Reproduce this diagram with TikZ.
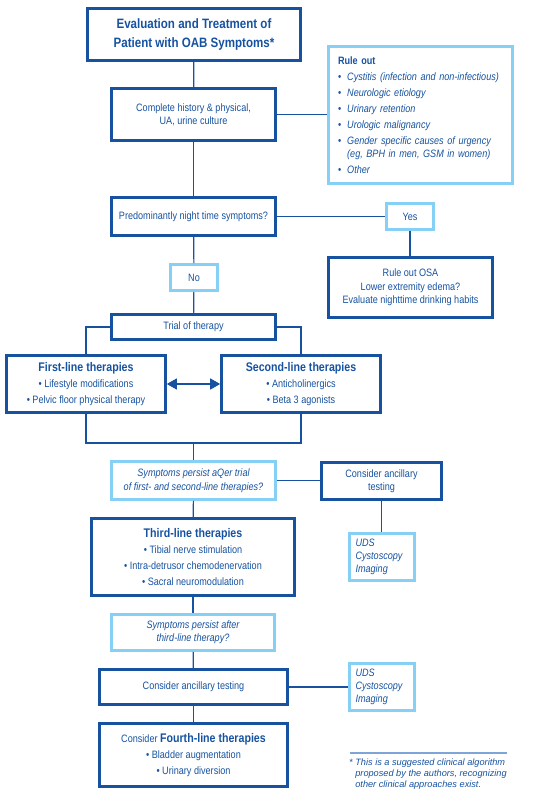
\documentclass[tikz,border=0pt]{standalone}
\usepackage{fontspec}
\usepackage{xcolor}
\usepackage{tikz}
\usetikzlibrary{shapes,arrows.meta,positioning,calc}
\setmainfont{Liberation Sans}[FakeStretch=0.85]
\newfontfamily\footfont{Liberation Sans}
\definecolor{OABBlue}{RGB}{22, 82, 160}
\definecolor{OABSky}{RGB}{135, 208, 245}
\definecolor{OABRule}{RGB}{125, 165, 215}
\newcommand{\bodyfont}{\fontsize{10.7}{13.3}\selectfont}
\newcommand{\headfont}{\fontsize{12.5}{15}\selectfont\bfseries}
\newcommand{\bul}{\textbullet~}
\newcommand{\lbul}{\textbullet\hspace{6pt}}

\begin{document}
\begin{tikzpicture}[x=1pt, y=-1pt]
  \tikzstyle{darkbox} = [rectangle, draw=OABBlue, text=OABBlue, line width=2.6pt, align=center, inner sep=2pt, font=\bodyfont]
  \tikzstyle{lightbox} = [rectangle, draw=OABSky, text=OABBlue, line width=2.6pt, align=center, inner sep=2pt, font=\bodyfont]
  \tikzstyle{conn} = [draw=OABBlue, line width=1.2pt]
  \tikzstyle{twoway} = [conn, {Triangle[length=10pt,width=11pt]}-{Triangle[length=10pt,width=11pt]}]
  \useasboundingbox (0,0) rectangle (550,798);

  % main column
  \node [darkbox, minimum width=213pt, minimum height=52pt, font=\fontsize{13.6}{18.3}\selectfont\bfseries] (title) at (194,34.5) {Evaluation and Treatment of\\Patient with OAB Symptoms*};
  \node [darkbox, minimum width=164pt, minimum height=52pt] (hist) at (193.5,114.5) {Complete history \& physical,\\UA, urine culture};
  \node [darkbox, minimum width=164pt, minimum height=38pt] (night) at (193.5,216.5) {Predominantly night time symptoms?};
  \node [lightbox, minimum width=47pt, minimum height=26pt] (no) at (194,277.5) {No};
  \node [darkbox, minimum width=164pt, minimum height=25pt] (trial) at (193.5,327) {Trial of therapy};
  \node [darkbox, minimum width=159pt, minimum height=57pt, font=\fontsize{10.7}{16}\selectfont] (first) at (86,384) {{\headfont First-line therapies}\\\bul Lifestyle modifications\\\bul Pelvic floor physical therapy};
  \node [darkbox, minimum width=159pt, minimum height=57pt, font=\fontsize{10.7}{16}\selectfont] (second) at (301,384) {{\headfont Second-line therapies}\\\bul Anticholinergics\\\bul Beta 3 agonists};
  \node [lightbox, minimum width=164pt, minimum height=38pt, font=\fontsize{10.7}{14}\selectfont\itshape] (persist1) at (193.5,480.5) {Symptoms persist aQer trial\\of first- and second-line therapies?};
  \node [darkbox, minimum width=203pt, minimum height=77pt, font=\fontsize{10.7}{16}\selectfont] (third) at (193,557) {{\headfont Third-line therapies}\\\bul Tibial nerve stimulation\\\bul Intra-detrusor chemodenervation\\\bul Sacral neuromodulation};
  \node [lightbox, minimum width=163pt, minimum height=36pt, font=\bodyfont\itshape] (persist2) at (193,632.5) {Symptoms persist after\\third-line therapy?};
  \node [darkbox, minimum width=188pt, minimum height=35pt] (ancil2) at (193.5,687) {Consider ancillary testing};
  \node [darkbox, minimum width=188pt, minimum height=63pt, font=\fontsize{10.7}{16}\selectfont] (fourth) at (193.5,755) {Consider {\headfont Fourth-line therapies}\\\bul Bladder augmentation\\\bul Urinary diversion};

  % side column
  \node [lightbox, minimum width=184pt, minimum height=137pt, inner xsep=9.5pt, text width=165pt, align=left, font=\fontsize{10.7}{12.7}\selectfont] (ruleout) at (420.5,115) {%
    \textbf{Rule out}\\[3.3pt]
    \lbul\textit{Cystitis (infection and non-infectious)}\\[3.3pt]
    \lbul\textit{Neurologic etiology}\\[3.3pt]
    \lbul\textit{Urinary retention}\\[3.3pt]
    \lbul\textit{Urologic malignancy}\\[3.3pt]
    \lbul\textit{Gender specific causes of urgency}\\
    \phantom{\lbul}\textit{(eg, BPH in men, GSM in women)}\\[3.3pt]
    \lbul\textit{Other}};
  \node [lightbox, minimum width=47pt, minimum height=26pt] (yes) at (410,216.5) {Yes};
  \node [darkbox, minimum width=164pt, minimum height=60pt, font=\fontsize{10.7}{13.5}\selectfont] (osa) at (410.5,287.5) {Rule out OSA\\Lower extremity edema?\\Evaluate nighttime drinking habits};
  \node [darkbox, minimum width=120pt, minimum height=37pt] (ancil1) at (381.5,481) {Consider ancillary\\testing};
  \node [lightbox, minimum width=65pt, minimum height=47pt, inner xsep=6pt, text width=53pt, align=left, font=\bodyfont\itshape] (uds1) at (382,557) {UDS\\Cystoscopy\\Imaging};
  \node [lightbox, minimum width=65pt, minimum height=47pt, inner xsep=6pt, text width=53pt, align=left, font=\bodyfont\itshape] (uds2) at (382,687) {UDS\\Cystoscopy\\Imaging};

  % connectors
  \coordinate (merge) at (193.5,443);
  \draw [conn] (title) -- (hist);
  \draw [conn] (hist.east) -- (hist.east -| ruleout.west);
  \draw [conn] (hist) -- (night);
  \draw [conn] (night.east) -- (yes.west);
  \draw [conn] (yes) -- (yes |- osa.north);
  \draw [conn] (night) -- (no);
  \draw [conn] (no) -- (trial);
  \draw [conn] (trial.west) -| (first.north);
  \draw [conn] (trial.east) -| (second.north);
  \draw [twoway] (first.east) -- (second.west);
  \draw [conn] (first.south) |- (merge) -| (second.south);
  \draw [conn] (merge) -- (persist1.north);
  \draw [conn] (persist1.east) -- (persist1.east -| ancil1.west);
  \draw [conn] (ancil1) -- (ancil1 |- uds1.north);
  \draw [conn] (persist1) -- (third);
  \draw [conn] (third) -- (persist2);
  \draw [conn] (persist2) -- (ancil2);
  \draw [conn] (ancil2.east) -- (uds2.west);
  \draw [conn] (ancil2) -- (fourth);

  % footnote
  \draw [OABRule, line width=1.2pt] (350,753) -- (507,753);
  \node [anchor=north west, align=left, inner sep=0pt, text=OABBlue, font=\footfont\fontsize{9.2}{10.7}\selectfont\itshape] (note) at (349,759) {* This is a suggested clinical algorithm\\\phantom{*} proposed by the authors, recognizing\\\phantom{*} other clinical approaches exist.};
\end{tikzpicture}
\end{document}
